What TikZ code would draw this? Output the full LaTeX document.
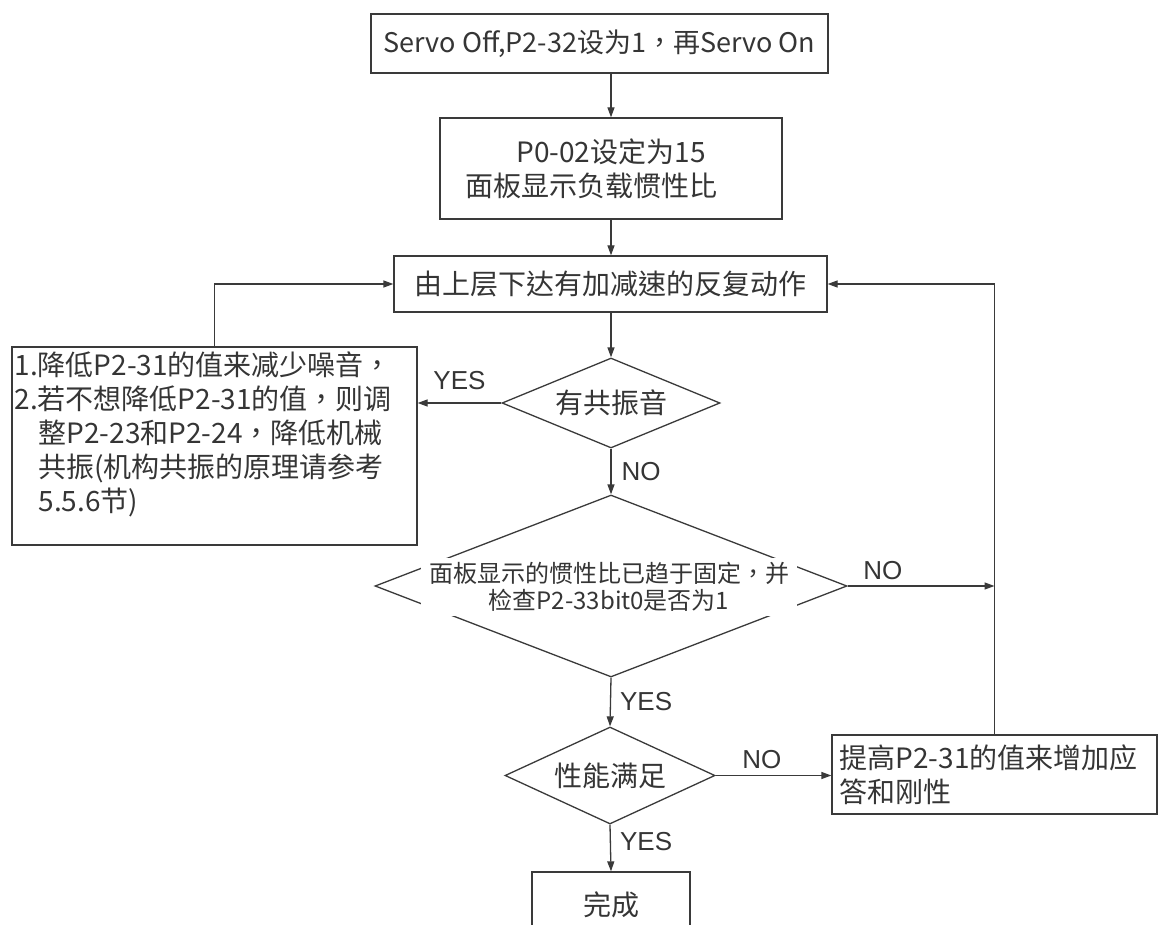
\documentclass[tikz,border=0pt]{standalone}
\usepackage{fontspec}
\setmainfont{Noto Sans CJK TC}
\newfontfamily\yesnofont{Liberation Sans}
\usepackage{xcolor}
\usepackage{tikz}
\usetikzlibrary{shapes.geometric, arrows.meta, positioning}

\definecolor{linegray}{HTML}{3A3A3A}
\definecolor{textgray}{HTML}{353535}

\begin{document}
\begin{tikzpicture}[x=1pt, y=-1pt,
    box/.style={rectangle, draw=linegray, line width=1.3pt, inner sep=0pt, text=textgray, font=\fontsize{28}{34}\selectfont},
    decision/.style={diamond, draw=linegray, line width=1.3pt, inner sep=1pt, aspect=2.4, text=textgray, font=\fontsize{28}{34}\selectfont},
    arrow/.style={-{Triangle[length=10pt, width=7pt]}, line width=1.3pt, draw=linegray},
    yn/.style={inner sep=0pt, text=textgray, font=\yesnofont\fontsize{26}{26}\selectfont}
  ]
  \clip (0,0) rectangle (1159,925);
  \fill[white] (0,0) rectangle (1159,925);

  % --- main column ---
  \node[box, minimum width=457pt, minimum height=59pt, font=\fontsize{27}{34}\selectfont] (start) at (599.5,43.5) {Servo Off,P2-32设为1，再Servo On};
  \node[box, minimum width=342pt, minimum height=101pt, align=center] (ratio) at (611,168.5) {P0-02设定为15\\面板显示负载惯性比\hspace*{40pt}};
  \node[box, minimum width=433pt, minimum height=56pt] (motion) at (610.5,284) {由上层下达有加减速的反复动作};
  \node[decision, minimum width=218pt, minimum height=90pt] (noise) at (611,403) {有共振音};

  \node[decision, minimum width=472pt, minimum height=182pt] (inertia) at (611,586) {};
  \node[fill=white, inner xsep=8pt, inner ysep=4pt, align=center, text=textgray, font=\fontsize{24}{27}\selectfont] (inertiatext) at (609,587) {面板显示的惯性比已趋于固定，并\\检查P2-33bit0是否为1};

  \node[decision, aspect=2.2, minimum width=210pt, minimum height=97pt] (perf) at (610,775.5) {性能满足};
  \node[box, minimum width=158pt, minimum height=66pt] (done) at (611,905) {完成};

  % --- side boxes ---
  \node[box, minimum width=405pt, minimum height=198pt] (reduce) at (214.5,446) {\parbox[t][188pt][t]{400pt}{1.降低P2-31的值来减少噪音，\\
      2.若不想降低P2-31的值，则调\\
      \hspace*{24pt}整P2-23和P2-24，降低机械\\
      \hspace*{24pt}共振(机构共振的原理请参考\\
      \hspace*{24pt}5.5.6节)}};
  \node[box, minimum width=325pt, minimum height=79pt, text width=310pt, align=left] (raise) at (994.5,774.5) {提高P2-31的值来增加应\\答和刚性};

  % --- connectors ---
  \draw[arrow] (ratio.north |- start.south) -- (ratio.north);
  \draw[arrow] (ratio.south) -- (ratio.south |- motion.north);
  \draw[arrow] (motion.south -| noise.north) -- (noise.north);
  \draw[arrow] (noise.south) -- node[yn, right=10pt] {NO} (inertia.north);
  \draw[arrow] (noise.west) -- node[yn, above=13pt] {YES} (noise.west -| reduce.east);
  \draw[arrow] (reduce.north) |- (motion.west);
  \draw[arrow] (inertia.south) -- node[yn, right=9pt] {YES} (perf.north);
  \draw[arrow] (inertia.east) -- node[yn, above=6pt, pos=0.24] {NO} (inertia.east -| raise.north);
  \draw[arrow] (raise.north) |- (motion.east);
  \draw[arrow] (perf.east) -- node[yn, above=6pt, pos=0.4] {NO} (perf.east -| raise.west);
  \draw[arrow] (perf.south) -- node[yn, right=9pt, yshift=6pt] {YES} (done.north);
\end{tikzpicture}
\end{document}
